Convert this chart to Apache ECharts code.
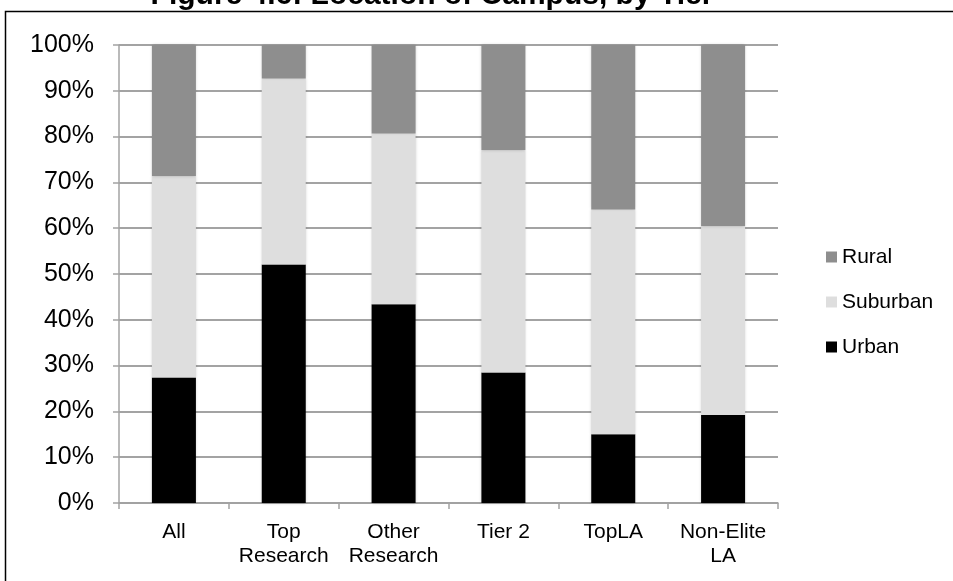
<!DOCTYPE html>
<html>
<head>
<meta charset="utf-8">
<script src="https://cdn.jsdelivr.net/npm/echarts@6/dist/echarts.min.js"></script>
<style>
  html, body { margin: 0; padding: 0; background: #fff; }
  #chart { width: 953px; height: 581px; }
</style>
</head>
<body>
<div id="chart"></div>
<script>
// Campus location shares (percent) by institution tier
const tiers = ['All', 'Top\nResearch', 'Other\nResearch', 'Tier 2', 'TopLA', 'Non-Elite\nLA'];
const urban = [27.4, 52.1, 43.4, 28.5, 15.0, 19.2];
const suburban = [44.0, 40.6, 37.3, 48.6, 49.1, 41.3];
const rural = [28.6, 7.3, 19.3, 22.9, 35.9, 39.5];
const yTicks = [0, 10, 20, 30, 40, 50, 60, 70, 80, 90, 100];

const font = '"Liberation Sans", Arial, Helvetica, sans-serif';
const gridGray = '#a3a3a3';

const chart = echarts.init(document.getElementById('chart'), null, { renderer: 'canvas' });

function barSeries(name, data, color) {
  return {
    name: name,
    type: 'bar',
    stack: 'loc',
    barWidth: 44,
    data: data,
    itemStyle: {
      color: color,
      shadowBlur: 3,
      shadowColor: 'rgba(0,0,0,0.22)'
    },
    emphasis: { disabled: true }
  };
}

chart.setOption({
  animation: false,
  backgroundColor: '#ffffff',
  graphic: [
    {
      type: 'rect',
      silent: true,
      shape: { x: 5.5, y: 11.5, width: 1200, height: 1200 },
      style: { fill: 'none', stroke: '#000', lineWidth: 1.5 }
    },
    {
      type: 'text',
      silent: true,
      style: {
        text: 'Figure 4.6: Location of Campus, by Tier',
        x: 432,
        y: -4,
        align: 'center',
        verticalAlign: 'middle',
        font: 'bold 30px ' + font,
        fill: '#000'
      }
    }
  ],
  grid: { left: 119, right: 175, top: 45, bottom: 78, containLabel: false },
  legend: {
    orient: 'vertical',
    left: 826,
    top: 246,
    padding: 0,
    itemWidth: 11,
    itemHeight: 11,
    itemGap: 23,
    icon: 'rect',
    data: ['Rural', 'Suburban', 'Urban'],
    textStyle: { fontFamily: font, fontSize: 21, color: '#000', lineHeight: 22 }
  },
  xAxis: {
    type: 'category',
    data: tiers,
    boundaryGap: true,
    axisLine: { lineStyle: { color: gridGray, width: 1.5 } },
    axisTick: { show: true, length: 6, alignWithLabel: false, lineStyle: { color: gridGray, width: 1.5 } },
    axisLabel: {
      fontFamily: font,
      fontSize: 21,
      lineHeight: 24,
      color: '#000',
      margin: 17,
      interval: 0
    }
  },
  yAxis: {
    type: 'value',
    min: 0,
    max: 100,
    interval: 10,
    axisLine: { show: true, lineStyle: { color: gridGray, width: 1.5 } },
    axisTick: { show: true, length: 6, lineStyle: { color: gridGray, width: 1.5 } },
    splitLine: { show: true, lineStyle: { color: gridGray, width: 2 } },
    axisLabel: {
      fontFamily: font,
      fontSize: 25,
      color: '#000',
      margin: 25,
      formatter: function (v) { return yTicks.indexOf(v) >= 0 ? v + '%' : ''; }
    }
  },
  series: [
    barSeries('Urban', urban, '#000000'),
    barSeries('Suburban', suburban, '#dedede'),
    barSeries('Rural', rural, '#8e8e8e')
  ]
});
</script>
</body>
</html>
